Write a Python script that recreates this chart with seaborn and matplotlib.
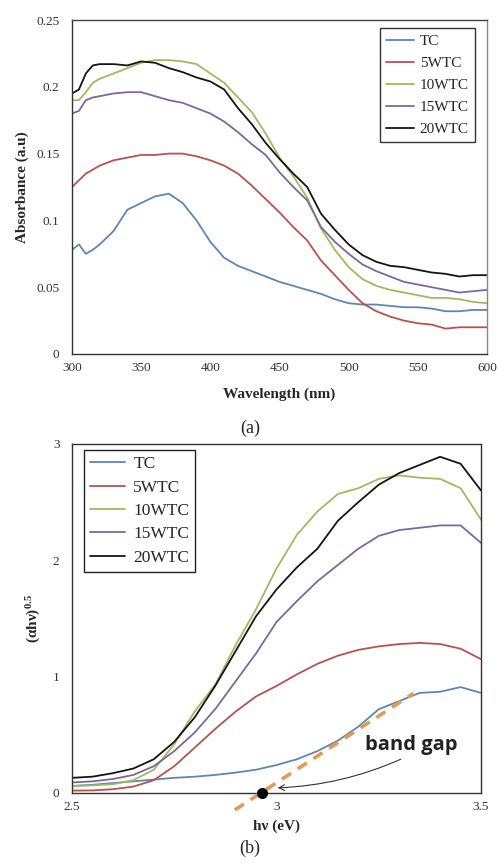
import matplotlib
matplotlib.use("Agg")
import matplotlib.pyplot as plt
import numpy as np
import pandas as pd
import seaborn as sns

# ---- data: (a) absorbance vs wavelength ----
wavelength = [300, 305, 310, 315, 320, 330, 340, 350, 360, 370, 380, 390, 400,
              410, 420, 430, 440, 450, 460, 470, 480, 490, 500, 510, 520, 530,
              540, 550, 560, 570, 580, 590, 600]
abs_tc = [.078, .082, .075, .078, .082, .092, .108, .113, .118, .120, .113, .100, .084,
          .072, .066, .062, .058, .054, .051, .048, .045, .041, .038, .037, .037, .036,
          .035, .035, .034, .032, .032, .033, .033]
abs_5 = [.125, .130, .135, .138, .141, .145, .147, .149, .149, .150, .150, .148, .145,
         .141, .135, .126, .116, .106, .095, .085, .070, .059, .048, .038, .032, .028,
         .025, .023, .022, .019, .020, .020, .020]
abs_10 = [.190, .190, .196, .203, .206, .210, .214, .218, .220, .220, .219, .217, .210,
          .203, .192, .181, .165, .147, .133, .117, .094, .078, .065, .056, .051, .048,
          .046, .044, .042, .042, .041, .039, .038]
abs_15 = [.180, .182, .190, .192, .193, .195, .196, .196, .193, .190, .188, .184, .180,
          .174, .166, .157, .149, .136, .125, .115, .095, .084, .075, .067, .062, .058,
          .054, .052, .050, .048, .046, .047, .048]
abs_20 = [.195, .198, .210, .216, .217, .217, .216, .219, .218, .214, .211, .207, .204,
          .198, .184, .172, .158, .146, .135, .125, .105, .093, .082, .074, .069, .066,
          .065, .063, .061, .060, .058, .059, .059]

# ---- data: (b) (alpha h nu)^0.5 vs photon energy ----
energy = [2.50, 2.55, 2.60, 2.65, 2.70, 2.75, 2.80, 2.85, 2.90, 2.95, 3.00,
          3.05, 3.10, 3.15, 3.20, 3.25, 3.30, 3.35, 3.40, 3.45, 3.50]
tauc_tc = [.06, .07, .085, .10, .115, .13, .14, .155, .175, .20, .24,
           .29, .36, .45, .57, .72, .79, .86, .87, .91, .86]
tauc_5 = [.02, .022, .032, .055, .11, .23, .39, .55, .70, .83, .92,
          1.02, 1.11, 1.18, 1.23, 1.26, 1.28, 1.29, 1.28, 1.24, 1.15]
tauc_10 = [.06, .065, .075, .11, .20, .42, .70, .93, 1.27, 1.58, 1.93,
           2.22, 2.42, 2.57, 2.62, 2.70, 2.73, 2.71, 2.70, 2.62, 2.35]
tauc_15 = [.09, .10, .12, .155, .23, .36, .52, .72, .96, 1.20, 1.47,
           1.65, 1.82, 1.96, 2.10, 2.21, 2.26, 2.28, 2.30, 2.30, 2.15]
tauc_20 = [.13, .14, .17, .21, .29, .44, .65, .92, 1.22, 1.52, 1.75,
           1.94, 2.10, 2.34, 2.50, 2.65, 2.75, 2.82, 2.89, 2.83, 2.60]

samples = ["TC", "5WTC", "10WTC", "15WTC", "20WTC"]
colors = ["#5b87b5", "#b9524f", "#9fbb5e", "#7d679f", "#151515"]

# band gap extrapolation line and intercept
fit_x = [2.898, 3.335]
fit_y = [-0.146, 0.857]
gap_x, gap_y = 2.964, 0.0

df_a = pd.DataFrame({
    "wl": wavelength * 5,
    "A": abs_tc + abs_5 + abs_10 + abs_15 + abs_20,
    "Sample": sum([[s] * len(wavelength) for s in samples], []),
})
df_b = pd.DataFrame({
    "E": energy * 5,
    "T": tauc_tc + tauc_5 + tauc_10 + tauc_15 + tauc_20,
    "Sample": sum([[s] * len(energy) for s in samples], []),
})

sns.set_style("white")
plt.rcParams["font.family"] = ["Liberation Serif", "DejaVu Serif"]
plt.rcParams["mathtext.fontset"] = "custom"
plt.rcParams["mathtext.rm"] = "Liberation Serif"
plt.rcParams["mathtext.it"] = "Liberation Serif:italic"
plt.rcParams["mathtext.bf"] = "Liberation Serif:bold"

fig = plt.figure(figsize=(4.97, 8.67), dpi=100)
ax1 = fig.add_axes([0.1449, 0.5917, 0.835, 0.3852])
ax2 = fig.add_axes([0.1449, 0.0854, 0.823, 0.4025])
pal = dict(zip(samples, colors))

sns.lineplot(data=df_a, x="wl", y="A", hue="Sample", hue_order=samples,
             palette=pal, lw=1.3, ax=ax1)
sns.lineplot(data=df_b, x="E", y="T", hue="Sample", hue_order=samples,
             palette=pal, lw=1.3, ax=ax2)

# top panel
ax1.set_xlim(300, 600)
ax1.set_ylim(0, 0.25)
ax1.set_xticks([300, 350, 400, 450, 500, 550, 600])
ax1.set_yticks([0, 0.05, 0.1, 0.15, 0.2, 0.25])
ax1.set_yticklabels(["0", "0.05", "0.1", "0.15", "0.2", "0.25"])
ax1.set_xlabel("Wavelength (nm)", fontsize=11, fontweight="bold", labelpad=10)
ax1.set_ylabel("Absorbance (a.u)", fontsize=11, fontweight="bold", labelpad=5)
ax1.legend(loc="upper right", bbox_to_anchor=(0.971, 0.976), borderaxespad=0,
           fontsize=11, fancybox=False, edgecolor="#333333", framealpha=1,
           handlelength=1.8, labelspacing=0.55, borderpad=0.4, handletextpad=0.4)

# bottom panel
ax2.set_xlim(2.5, 3.5)
ax2.set_ylim(0, 3)
ax2.set_xticks([2.5, 3, 3.5])
ax2.set_xticklabels(["2.5", "3", "3.5"])
ax2.set_yticks([0, 1, 2, 3])
ax2.set_xlabel("h\u03bd (eV)", fontsize=11, fontweight="bold", labelpad=5)
ax2.set_ylabel("(\u03b1h\u03bd)$^{\\mathbf{0.5}}$", fontsize=11, fontweight="bold",
               labelpad=7)
ax2.legend(loc="upper left", bbox_to_anchor=(0.029, 0.983), borderaxespad=0,
           fontsize=12.5, fancybox=False, edgecolor="#222222", framealpha=1,
           handlelength=2.0, labelspacing=0.42, borderpad=0.35, handletextpad=0.5)

ax2.plot(fit_x, fit_y, color="#e39a55", lw=2.6, ls=(0, (3, 2.2)), clip_on=False, zorder=5)
ax2.plot([gap_x], [gap_y], "o", color="black", ms=7, clip_on=False, zorder=6)
ax2.annotate("", xy=(2.996, 0.043), xytext=(3.31, 0.30),
             arrowprops=dict(arrowstyle="->", color="#333333", lw=0.8,
                             connectionstyle="arc3,rad=-0.1"))
ax2.text(3.33, 0.41, "band gap", fontsize=14.5, fontweight="bold",
         family=["Open Sans", "DejaVu Sans"], color="#222222",
         ha="center", va="center")

for ax in (ax1, ax2):
    for sp in ax.spines.values():
        sp.set_visible(True)
        sp.set_color("#333333")
        sp.set_linewidth(1.0)
    ax.tick_params(axis="x", direction="inout", length=5, width=0.8,
                   labelsize=9.5, colors="#333333", pad=3)
    ax.tick_params(axis="y", direction="out", length=5, width=0.8,
                   labelsize=9.5, colors="#333333", pad=4)
    ax.grid(False)
ax1.spines["right"].set_color("#888888")
ax1.spines["top"].set_color("#444444")

fig.text(0.503, 1 - 428 / 867, "(a)", fontsize=13, ha="center", va="center")
fig.text(0.503, 1 - 848 / 867, "(b)", fontsize=13, ha="center", va="center")

fig.savefig("out.png", dpi=100)
